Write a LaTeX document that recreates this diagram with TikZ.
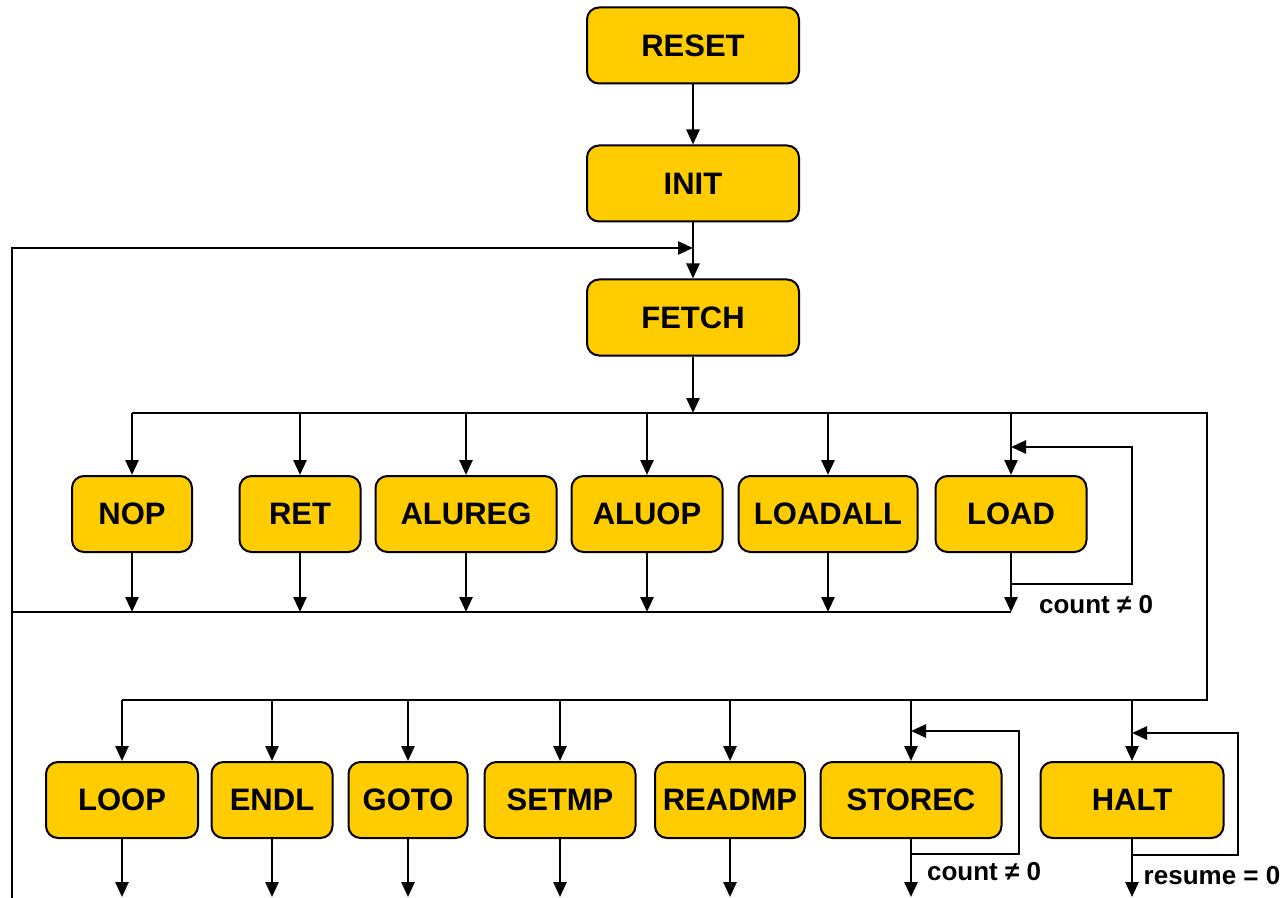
\documentclass[tikz,border=0pt]{standalone}
\usepackage{fontspec}
\setmainfont{Liberation Sans}
\usetikzlibrary{arrows.meta,positioning}
\definecolor{stateyellow}{HTML}{FFCC00}

\begin{document}
\begin{tikzpicture}[
    x=0.5pt, y=-0.5pt,
    node distance=30pt,
    state/.style={draw, line width=1pt, rounded corners=6pt, fill=stateyellow, minimum height=38pt, inner sep=2pt, font=\fontsize{15.5}{18}\selectfont\bfseries},
    cond/.style={inner sep=0pt, font=\fontsize{13}{15}\selectfont\bfseries},
    wire/.style={line width=1.3pt},
    arr/.style={wire, -{Triangle[length=7.5pt, width=6.5pt]}}
]
\useasboundingbox (0,0) rectangle (1283,898);

\node[state, minimum width=106pt] (reset) at (693,45.5) {RESET};
\node[state, minimum width=106pt, below=of reset] (init) {INIT};
\node[state, minimum width=106pt, below=28pt of init] (fetch) {FETCH};

\node[state, minimum width=60pt] (nop) at (132,514) {NOP};
\node[state, minimum width=60.5pt] (ret) at (300,514) {RET};
\node[state, minimum width=90.5pt] (alureg) at (466,514) {ALUREG};
\node[state, minimum width=75.5pt] (aluop) at (647,514) {ALUOP};
\node[state, minimum width=89.5pt] (loadall) at (828,514) {LOADALL};
\node[state, minimum width=75.5pt] (load) at (1011,514) {LOAD};

\node[state, minimum width=76pt] (loop) at (122,800) {LOOP};
\node[state, minimum width=60.5pt] (endl) at (272,800) {ENDL};
\node[state, minimum width=59.5pt] (goto) at (408,800) {GOTO};
\node[state, minimum width=75.5pt] (setmp) at (560,800) {SETMP};
\node[state, minimum width=75pt] (readmp) at (730,800) {READMP};
\node[state, minimum width=90.5pt] (storec) at (911,800) {STOREC};
\node[state, minimum width=91.5pt] (halt) at (1132,800) {HALT};

\coordinate (join) at (693,248);
\coordinate (retbase) at (12,898);
\coordinate (split1) at (693,413);
\coordinate (split1end) at (1207,413);
\coordinate (merge1) at (12,612);
\coordinate (split2) at (1207,700);
\coordinate (floor) at (0,897);
\coordinate (loadback) at (1132,447);
\coordinate (storecback) at (1019,731);
\coordinate (haltback) at (1238,733);

\node[cond] (loadcond) at (1096,605) {count ≠ 0};
\node[cond] (storeccond) at (984,872) {count ≠ 0};
\node[cond] (haltcond) at (1212,876) {resume = 0};

\draw[arr] (reset) -- (init);
\draw[arr] (init) -- (fetch);
\draw[arr] (retbase) |- (join);
\draw[arr] (fetch) -- (split1);
\draw[wire] (nop |- split1) -- (split1end) -- (split2) -- (loop |- split2);
\foreach \n in {nop,ret,alureg,aluop,loadall,load} {
  \draw[arr] (\n |- split1) -- (\n.north);
  \draw[arr] (\n.south) -- (\n |- merge1);
}
\draw[wire] (merge1) -- (load |- merge1);
\draw[arr] ([yshift=-15.5pt]load.south) -| (loadback) -- (load |- loadback);
\foreach \n in {loop,endl,goto,setmp,readmp,storec,halt} {
  \draw[arr] (\n |- split2) -- (\n.north);
  \draw[arr] (\n.south) -- (\n |- floor);
}
\draw[arr] ([yshift=-7.5pt]storec.south) -| (storecback) -- (storec |- storecback);
\draw[arr] ([yshift=-8pt]halt.south) -| (haltback) -- (halt |- haltback);
\end{tikzpicture}
\end{document}
